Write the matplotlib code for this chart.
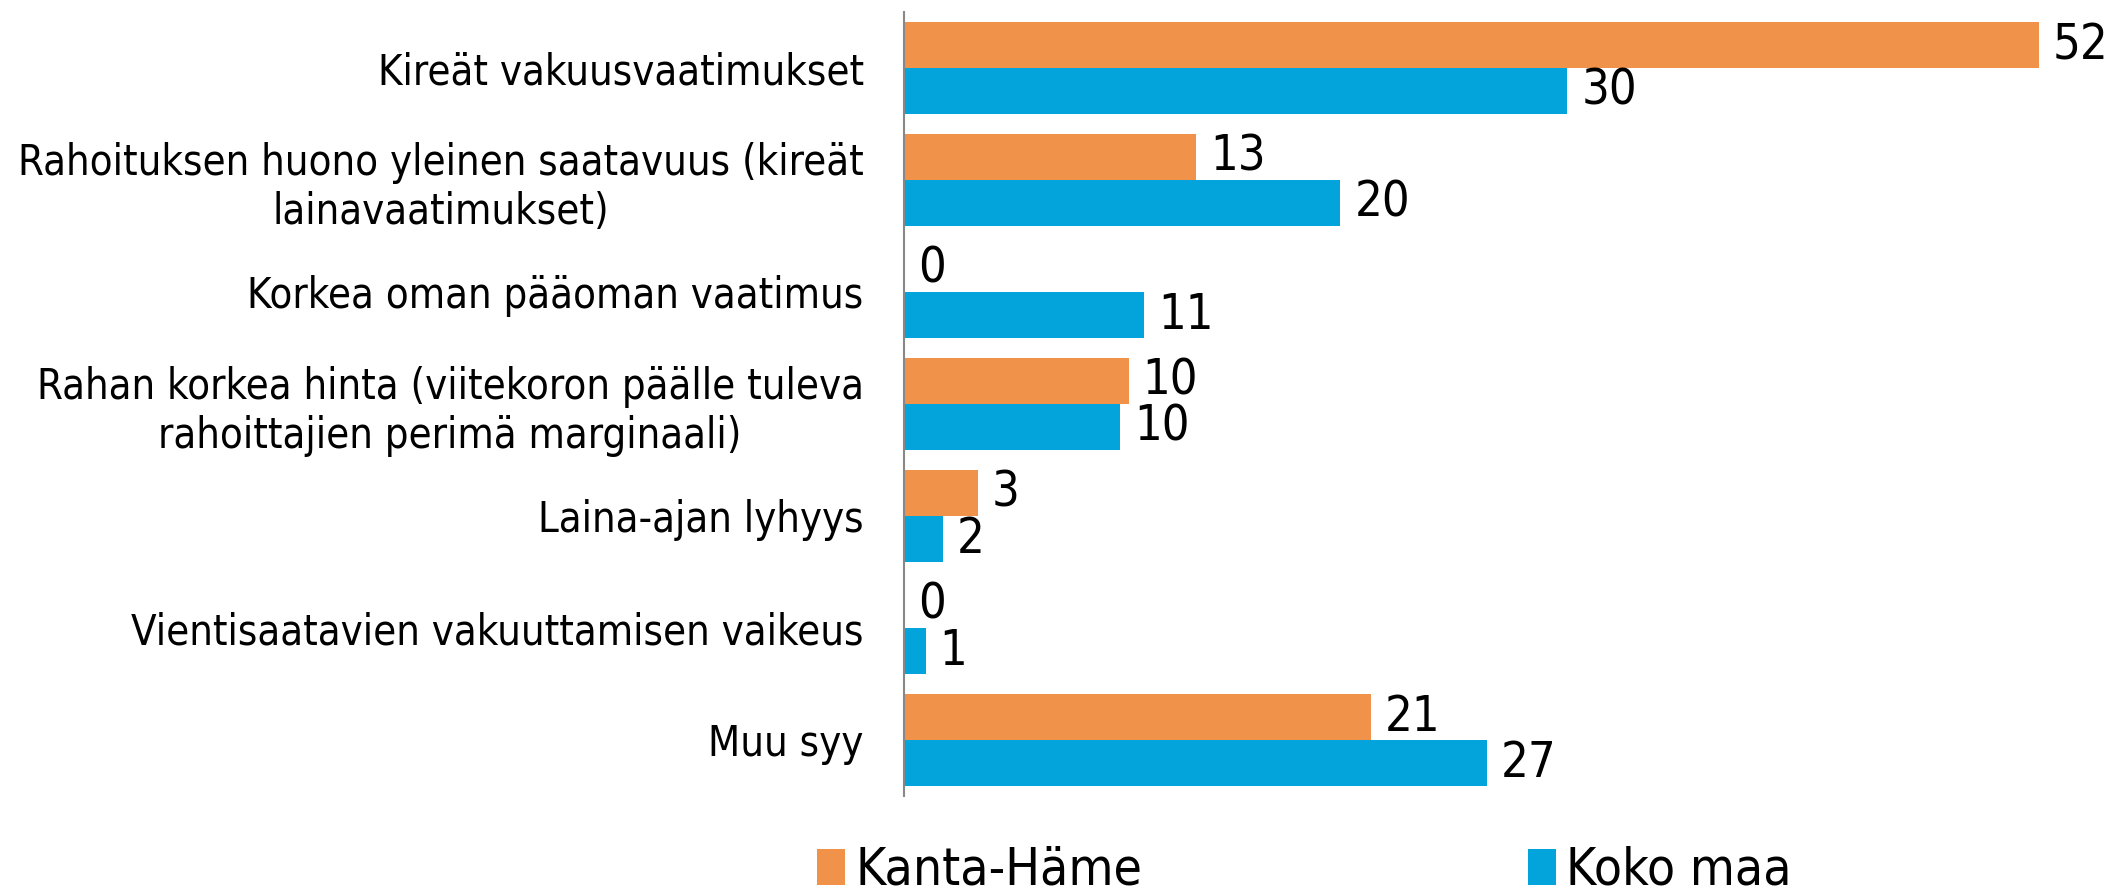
import matplotlib.pyplot as plt
import numpy as np

plt.rcParams['font.family'] = ['DejaVu Sans']
plt.rcParams['font.stretch'] = 'condensed'

categories = [
    'Kireät vakuusvaatimukset',
    'Rahoituksen huono yleinen saatavuus (kireät\nlainavaatimukset)',
    'Korkea oman pääoman vaatimus',
    'Rahan korkea hinta (viitekoron päälle tuleva\nrahoittajien perimä marginaali)',
    'Laina-ajan lyhyys',
    'Vientisaatavien vakuuttamisen vaikeus',
    'Muu syy',
]
# bar lengths; labels are the rounded values
kanta_hame = [52.0, 13.4, 0.0, 10.3, 3.4, 0.0, 21.4]
koko_maa = [30.4, 20.0, 11.0, 9.9, 1.8, 1.0, 26.7]
series_names = ['Kanta-Häme', 'Koko maa']

orange = '#F1924B'
blue = '#02A4DB'

fig = plt.figure(figsize=(21.15, 8.94), dpi=100)
ax = fig.add_axes([0.4274, 0.110, 0.5726, 0.8766])

y = np.arange(len(categories))
h = 0.41
b1 = ax.barh(y - h / 2, kanta_hame, height=h, color=orange, label=series_names[0])
b2 = ax.barh(y + h / 2, koko_maa, height=h, color=blue, label=series_names[1])

for bars in (b1, b2):
    for rect in bars:
        w = rect.get_width()
        ax.annotate(f'{w:.0f}', (w, rect.get_y() + rect.get_height() / 2),
                    xytext=(10, 0), textcoords='offset points',
                    ha='left', va='center', fontsize=35)

ax.set_xlim(0, 55.5)
ax.set_ylim(len(categories) - 0.5, -0.5)
ax.set_yticks(y)
ax.set_yticklabels(categories, fontsize=30, multialignment='center')
ax.tick_params(axis='y', length=0, pad=29)
ax.set_xticks([])
for s in ('top', 'right', 'bottom'):
    ax.spines[s].set_visible(False)
ax.spines['left'].set_color('#888888')
ax.spines['left'].set_linewidth(1.5)

fig.legend(handles=[b1, b2], loc='center left', bbox_to_anchor=(0.374, 0.026),
           ncol=2, frameon=False, fontsize=37, handlelength=0.55, handleheight=0.7,
           handletextpad=0.2, columnspacing=7.5, borderpad=0)

fig.savefig('out.png', dpi=100)
